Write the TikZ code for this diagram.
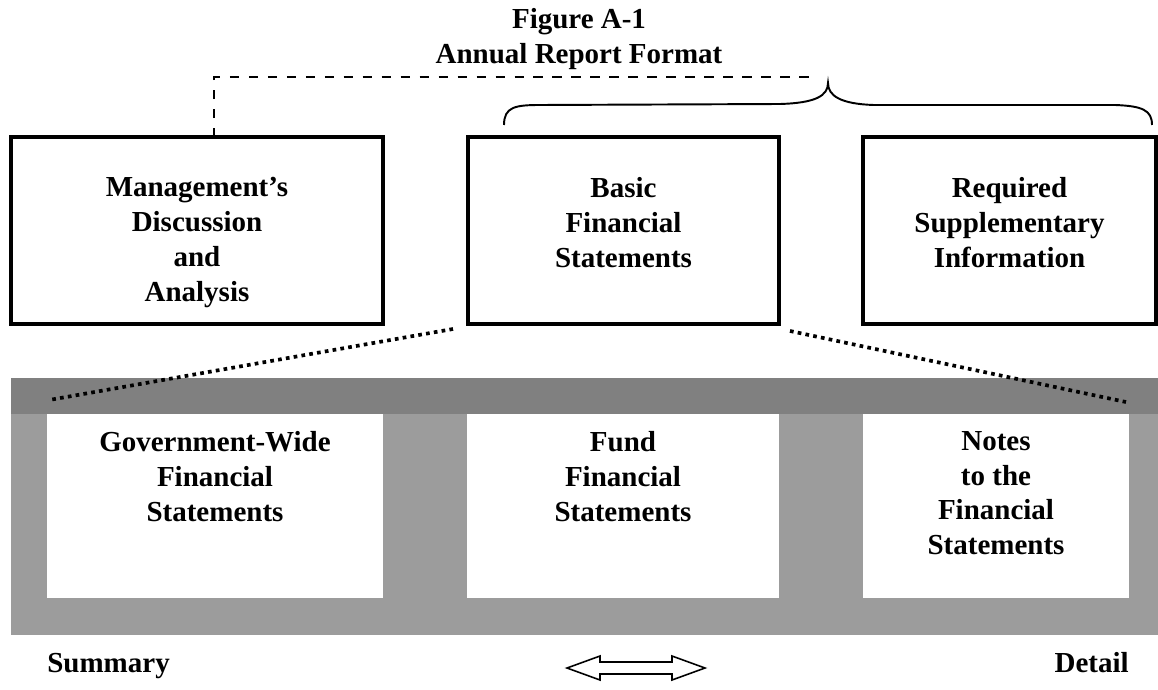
\documentclass[tikz,border=0pt]{standalone}
\usepackage{fontspec}
\setmainfont{Liberation Serif}
\usetikzlibrary{positioning,calc}

\newcommand{\lbfont}{\fontsize{16.5}{19.8}\selectfont\bfseries}

\begin{document}
\begin{tikzpicture}[
    x=0.02cm, y=-0.02cm,
    font=\lbfont,
    topbox/.style={draw, line width=2.2pt, minimum width=#1, minimum height=3.74cm, inner sep=0pt, outer sep=0pt},
    whitebox/.style={fill=white, minimum width=#1, minimum height=3.68cm, inner sep=0pt, outer sep=0pt},
    lbl/.style={align=center, inner sep=0pt},
    dashline/.style={line width=1.7pt, dash pattern=on 5.4pt off 5.4pt},
    dotline/.style={line width=2.1pt, dash pattern=on 2.1pt off 2.4pt},
    bracestyle/.style={line width=1.1pt}
]
    \useasboundingbox (0,0) rectangle (1158,689);

    % --- 标题 ---
    \node[lbl, anchor=north] (title) at (579,8) {Figure A-1\\Annual Report Format};

    % --- 上排三个框 ---
    \node[topbox=7.44cm] (mda)   at (197,230.5)   {};
    \node[topbox=6.22cm] (basic) at (623.5,230.5) {};
    \node[topbox=5.86cm] (rsi)   at (1009.5,230.5) {};

    \node[lbl, below=0.8cm of mda.north]   {Management's\\Discussion\\and\\Analysis};
    \node[lbl, below=0.8cm of basic.north] {Basic\\Financial\\Statements};
    \node[lbl, below=0.8cm of rsi.north]   {Required\\Supplementary\\Information};

    % --- 灰色底板 ---
    \fill[gray!78] (11,378) rectangle (1158,635);
    \fill[gray] (11,378) rectangle (1158,414);

    % --- 下排三个白框 ---
    \node[whitebox=6.72cm] (gwfs)  at (215,506) {};
    \node[whitebox=6.24cm] (ffs)   at (623,506) {};
    \node[whitebox=5.32cm] (notes) at (996,506) {};

    \node[lbl, below=0.34cm of gwfs.north]  {Government-Wide\\Financial\\Statements};
    \node[lbl, below=0.34cm of ffs.north]   {Fund\\Financial\\Statements};
    \node[lbl, below=0.34cm of notes.north] {Notes\\to the\\Financial\\Statements};

    % --- 虚线与花括号 ---
    \coordinate (tip) at (828,83);
    \draw[dashline] (mda.north -| 214,0) -- (214,77) -- (817,77);
    \draw[bracestyle] (504,125) .. controls (504,107) and (515,105) .. (540,105)
        -- (780,104) .. controls (815,103) and (828,96) .. (tip)
        .. controls (828,96) and (841,104) .. (874,105)
        -- (1115,105) .. controls (1142,106) and (1152,110) .. (1152,125);

    % --- 点线 ---
    \draw[dotline] ($(basic.south west)+(-15,5)$) -- ($(gwfs.north west)+(2,-14)$);
    \draw[dotline] ($(basic.south east)+(11,7)$) -- ($(notes.north east)+(-3,-12)$);

    % --- 底部说明 ---
    \node[lbl, anchor=base west] (summary) at (47,672) {Summary};
    \node[lbl, anchor=base east] (detail) at (1129,672) {Detail};
    \draw[line width=0.9pt] (567,668) -- (600,656) -- (600,662) -- (672,662) -- (672,656)
        -- (705,668) -- (672,680) -- (672,674) -- (600,674) -- (600,680) -- cycle;
\end{tikzpicture}
\end{document}
